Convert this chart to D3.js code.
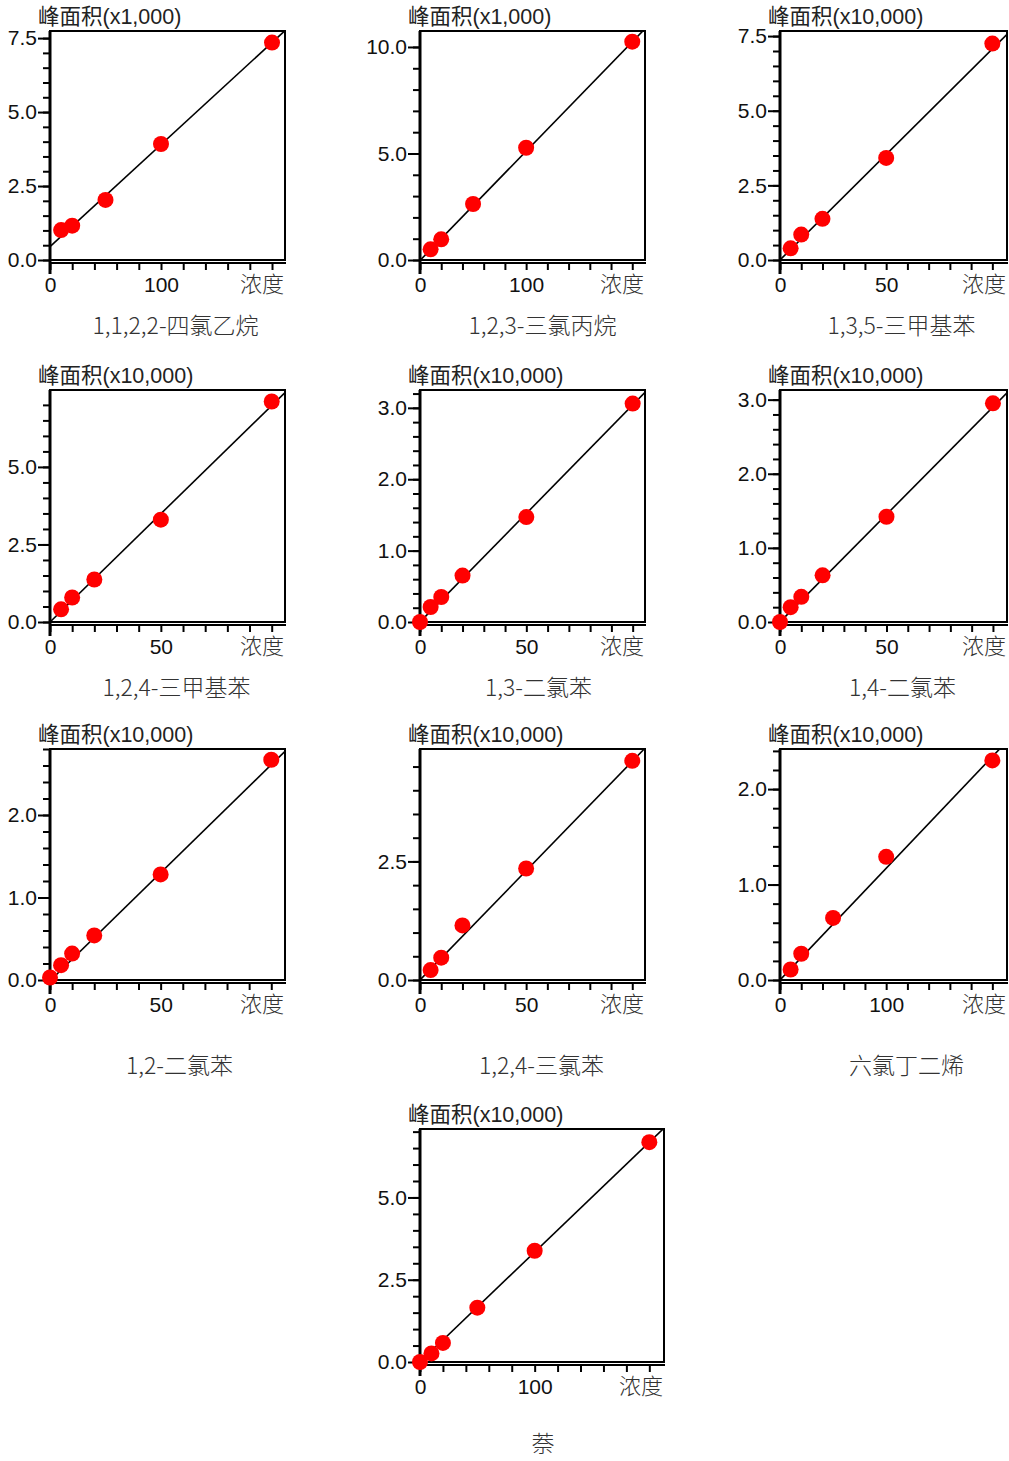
<!DOCTYPE html>
<html>
<head>
<meta charset="utf-8">
<script src="https://cdn.jsdelivr.net/npm/d3@7"></script>
<style>
  body { margin: 0; background: #fff; }
  .tick text { font-family: "Liberation Sans", Arial, sans-serif; font-size: 21px; fill: #111; }
</style>
</head>
<body>
<div id="chart"></div>
<script>
// compound names, one per small chart
const names = ["1,1,2,2-四氯乙烷", "1,2,3-三氯丙烷", "1,3,5-三甲基苯",
  "1,2,4-三甲基苯", "1,3-二氯苯", "1,4-二氯苯",
  "1,2-二氯苯", "1,2,4-三氯苯", "六氯丁二烯", "萘"];
const yUnits = ["x1,000", "x1,000", "x10,000", "x10,000", "x10,000",
  "x10,000", "x10,000", "x10,000", "x10,000", "x10,000"];

// concentration (x) and peak area (y, in yUnits) of each calibration point
const concs = [
  [10, 20, 50, 100, 200],
  [10, 20, 50, 100, 200],
  [5, 10, 20, 50, 100],
  [5, 10, 20, 50, 100],
  [0, 5, 10, 20, 50, 100],
  [0, 5, 10, 20, 50, 100],
  [0, 5, 10, 20, 50, 100],
  [5, 10, 20, 50, 100],
  [10, 20, 50, 100, 200],
  [0, 10, 20, 50, 100, 200]
];
const areas = [
  [1.01, 1.16, 2.03, 3.92, 7.35],
  [0.50, 0.97, 2.63, 5.27, 10.25],
  [0.39, 0.85, 1.38, 3.42, 7.25],
  [0.41, 0.79, 1.37, 3.30, 7.11],
  [0.00, 0.21, 0.35, 0.65, 1.47, 3.06],
  [0.00, 0.20, 0.34, 0.63, 1.42, 2.95],
  [0.03, 0.18, 0.32, 0.54, 1.28, 2.67],
  [0.21, 0.47, 1.15, 2.35, 4.62],
  [0.11, 0.275, 0.65, 1.29, 2.30],
  [0.00, 0.26, 0.58, 1.65, 3.38, 6.68]
];
// calibration line: area = intercept + slope * conc
const fitIntercept = [0.45, -0.02, 0, 0, 0, 0, -0.01, 0, 0, 0];
const fitSlope = [0.0345, 0.0513, 0.0707, 0.0698, 0.0304, 0.029, 0.0262, 0.0461, 0.0117, 0.0334];

// axis extents and tick steps
const xMax = [211.7, 212, 106.9, 106, 105.8, 106.6, 106.2, 106, 213.8, 212.8];
const xLabelStep = [100, 100, 50, 50, 50, 50, 50, 50, 100, 100];
const xTickStep = [20, 20, 10, 10, 10, 10, 10, 10, 20, 20];
const yMax = [7.74, 10.75, 7.67, 7.48, 3.25, 3.13, 2.8, 4.87, 2.42, 7.08];
const yLabelStep = [2.5, 5, 2.5, 2.5, 1, 1, 1, 2.5, 1, 2.5];
const yTickStep = [0.5, 1, 0.5, 0.5, 0.2, 0.2, 0.2, 0.5, 0.2, 0.5];

// where each small chart sits on the page
const colLeft = [50, 420, 780], colRight = [285, 645, 1007];
const rowTop = [31, 390, 749], rowBottom = [260, 622, 980];
const layout = d3.range(9).map(i => ({
  left: colLeft[i % 3], right: colRight[i % 3],
  top: rowTop[Math.floor(i / 3)], bottom: rowBottom[Math.floor(i / 3)],
  nameDy: i < 6 ? 74 : 94
}));
layout.push({left: 420, right: 664, top: 1129, bottom: 1362, nameDy: 90});
const nameDx = [8, 10, 8, 9, 6, 9, 12, 9, 13, 1];

var svg = d3.select("#chart").append("svg")
  .attr("width", 1009)
  .attr("height", 1461)
  .style("display", "block");
svg.append("rect").attr("width", 1009).attr("height", 1461).attr("fill", "#fff");

function steps(max, step) {
  // tick values 0, step, 2*step ... up to max
  var out = [];
  for (var k = 0; k * step <= max + 1e-9; k++) out.push(+(k * step).toFixed(4));
  return out;
}

names.forEach(function(name, i) {
  var L = layout[i];
  var x = d3.scaleLinear().domain([0, xMax[i]]).range([L.left, L.right]);
  var y = d3.scaleLinear().domain([0, yMax[i]]).range([L.bottom, L.top]);
  var g = svg.append("g");

  // clip for the fit line
  g.append("clipPath").attr("id", "clip" + i)
    .append("rect")
      .attr("x", L.left).attr("y", L.top)
      .attr("width", L.right - L.left).attr("height", L.bottom - L.top);

  // title above the plot
  g.append("text")
    .attr("x", L.left - 12)
    .attr("y", L.top - 7)
    .style("font-family", "'Liberation Sans', 'Noto Sans CJK SC', sans-serif")
    .style("font-size", "21.5px")
    .attr("fill", "#222")
    .text("峰面积(" + yUnits[i] + ")");

  // minor y ticks
  g.append("g")
    .attr("transform", "translate(" + L.left + ",0)")
    .call(d3.axisLeft(y).tickValues(steps(yMax[i], yTickStep[i])).tickSize(7).tickFormat(""))
    .call(a => a.select(".domain").remove())
    .selectAll("line").attr("stroke", "#000").attr("stroke-width", 2);
  // major y ticks with labels
  g.append("g")
    .attr("transform", "translate(" + L.left + ",0)")
    .call(d3.axisLeft(y).tickValues(steps(yMax[i], yLabelStep[i])).tickSize(12).tickPadding(1).tickFormat(d3.format(".1f")))
    .call(a => a.select(".domain").remove())
    .call(a => a.selectAll("line").attr("stroke", "#000").attr("stroke-width", 2));

  // x ticks below the plot, axis line sits a little under the box
  var xAxisY = L.bottom + 3;
  g.append("g")
    .attr("transform", "translate(0," + xAxisY + ")")
    .call(d3.axisBottom(x).tickValues(steps(xMax[i], xTickStep[i])).tickSize(7).tickFormat(""))
    .call(a => a.select(".domain").remove())
    .selectAll("line").attr("stroke", "#000").attr("stroke-width", 2);
  g.append("g")
    .attr("transform", "translate(0," + xAxisY + ")")
    .call(d3.axisBottom(x).tickValues(steps(xMax[i] - 20, xLabelStep[i])).tickSize(0).tickPadding(14).tickFormat(d3.format("d")))
    .call(a => a.select(".domain").remove());

  // box, x axis line and y axis line
  g.append("rect")
    .attr("x", L.left).attr("y", L.top)
    .attr("width", L.right - L.left).attr("height", L.bottom - L.top)
    .attr("fill", "none").attr("stroke", "#000").attr("stroke-width", 2);
  g.append("line")
    .attr("x1", L.left).attr("x2", L.right + 1)
    .attr("y1", xAxisY).attr("y2", xAxisY)
    .attr("stroke", "#000").attr("stroke-width", 2);
  g.append("line")
    .attr("x1", L.left).attr("x2", L.left)
    .attr("y1", L.top).attr("y2", L.bottom + 14)
    .attr("stroke", "#000").attr("stroke-width", 3);

  // calibration line
  var xs = [0, xMax[i]];
  g.append("path")
    .attr("clip-path", "url(#clip" + i + ")")
    .attr("d", d3.line()
      .x(d => x(d))
      .y(d => y(fitIntercept[i] + fitSlope[i] * d))(xs))
    .attr("fill", "none").attr("stroke", "#000").attr("stroke-width", 1.6);

  // calibration points
  g.append("g").selectAll("circle")
    .data(concs[i].map((c, k) => [c, areas[i][k]]))
    .enter().append("circle")
      .attr("cx", d => x(d[0]))
      .attr("cy", d => y(d[1]))
      .attr("r", 8)
      .attr("fill", "#ff0000");

  // x axis title
  g.append("text")
    .attr("x", L.right - 1)
    .attr("y", L.bottom + 32)
    .attr("text-anchor", "end")
    .style("font-family", "'Noto Sans CJK SC', sans-serif")
    .style("font-size", "22px")
    .style("font-weight", 300)
    .attr("fill", "#333")
    .text("浓度");

  // compound name
  g.append("text")
    .attr("x", (L.left + L.right) / 2 + nameDx[i])
    .attr("y", L.bottom + L.nameDy)
    .attr("text-anchor", "middle")
    .style("font-family", "'Noto Sans CJK SC', sans-serif")
    .style("font-size", "23px")
    .style("font-weight", 300)
    .attr("fill", "#333")
    .text(name);
});
</script>
</body>
</html>
